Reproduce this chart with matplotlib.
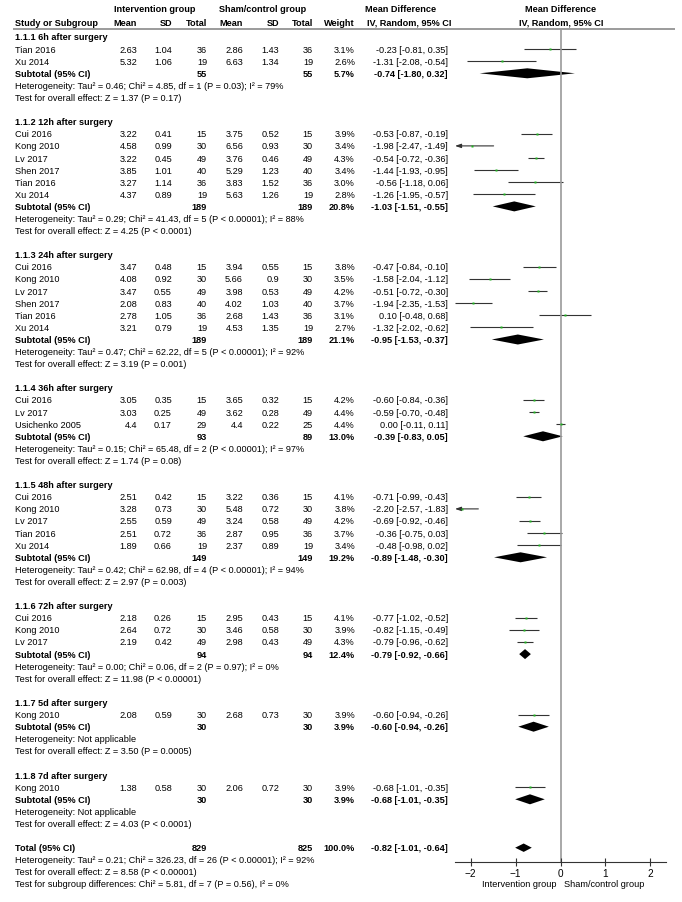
import numpy as np
import matplotlib.pyplot as plt
from matplotlib.patches import Polygon

plt.rcParams['font.family'] = ['Liberation Sans', 'DejaVu Sans']

# ---- data ----
group_labels = ['1.1.1 6h after surgery', '1.1.2 12h after surgery', '1.1.3 24h after surgery',
                '1.1.4 36h after surgery', '1.1.5 48h after surgery', '1.1.6 72h after surgery',
                '1.1.7 5d after surgery', '1.1.8 7d after surgery']

study_names = [['Tian 2016', 'Xu 2014'],
               ['Cui 2016', 'Kong 2010', 'Lv 2017', 'Shen 2017', 'Tian 2016', 'Xu 2014'],
               ['Cui 2016', 'Kong 2010', 'Lv 2017', 'Shen 2017', 'Tian 2016', 'Xu 2014'],
               ['Cui 2016', 'Lv 2017', 'Usichenko 2005'],
               ['Cui 2016', 'Kong 2010', 'Lv 2017', 'Tian 2016', 'Xu 2014'],
               ['Cui 2016', 'Kong 2010', 'Lv 2017'],
               ['Kong 2010'],
               ['Kong 2010']]

int_mean = [['2.63', '5.32'],
            ['3.22', '4.58', '3.22', '3.85', '3.27', '4.37'],
            ['3.47', '4.08', '3.47', '2.08', '2.78', '3.21'],
            ['3.05', '3.03', '4.4'],
            ['2.51', '3.28', '2.55', '2.51', '1.89'],
            ['2.18', '2.64', '2.19'],
            ['2.08'],
            ['1.38']]
int_sd = [['1.04', '1.06'],
          ['0.41', '0.99', '0.45', '1.01', '1.14', '0.89'],
          ['0.48', '0.92', '0.55', '0.83', '1.05', '0.79'],
          ['0.35', '0.25', '0.17'],
          ['0.42', '0.73', '0.59', '0.72', '0.66'],
          ['0.26', '0.72', '0.42'],
          ['0.59'],
          ['0.58']]
int_n = [[36, 19], [15, 30, 49, 40, 36, 19], [15, 30, 49, 40, 36, 19], [15, 49, 29],
         [15, 30, 49, 36, 19], [15, 30, 49], [30], [30]]

ctl_mean = [['2.86', '6.63'],
            ['3.75', '6.56', '3.76', '5.29', '3.83', '5.63'],
            ['3.94', '5.66', '3.98', '4.02', '2.68', '4.53'],
            ['3.65', '3.62', '4.4'],
            ['3.22', '5.48', '3.24', '2.87', '2.37'],
            ['2.95', '3.46', '2.98'],
            ['2.68'],
            ['2.06']]
ctl_sd = [['1.43', '1.34'],
          ['0.52', '0.93', '0.46', '1.23', '1.52', '1.26'],
          ['0.55', '0.9', '0.53', '1.03', '1.43', '1.35'],
          ['0.32', '0.28', '0.22'],
          ['0.36', '0.72', '0.58', '0.95', '0.89'],
          ['0.43', '0.58', '0.43'],
          ['0.73'],
          ['0.72']]
ctl_n = [[36, 19], [15, 30, 49, 40, 36, 19], [15, 30, 49, 40, 36, 19], [15, 49, 25],
         [15, 30, 49, 36, 19], [15, 30, 49], [30], [30]]

weights = [[3.1, 2.6], [3.9, 3.4, 4.3, 3.4, 3.0, 2.8], [3.8, 3.5, 4.2, 3.7, 3.1, 2.7],
           [4.2, 4.4, 4.4], [4.1, 3.8, 4.2, 3.7, 3.4], [4.1, 3.9, 4.3], [3.9], [3.9]]
md = [[-0.23, -1.31], [-0.53, -1.98, -0.54, -1.44, -0.56, -1.26],
      [-0.47, -1.58, -0.51, -1.94, 0.10, -1.32], [-0.60, -0.59, 0.00],
      [-0.71, -2.20, -0.69, -0.36, -0.48], [-0.77, -0.82, -0.79], [-0.60], [-0.68]]
ci_lo = [[-0.81, -2.08], [-0.87, -2.47, -0.72, -1.93, -1.18, -1.95],
         [-0.84, -2.04, -0.72, -2.35, -0.48, -2.02], [-0.84, -0.70, -0.11],
         [-0.99, -2.57, -0.92, -0.75, -0.98], [-1.02, -1.15, -0.96], [-0.94], [-1.01]]
ci_hi = [[0.35, -0.54], [-0.19, -1.49, -0.36, -0.95, 0.06, -0.57],
         [-0.10, -1.12, -0.30, -1.53, 0.68, -0.62], [-0.36, -0.48, 0.11],
         [-0.43, -1.83, -0.46, 0.03, 0.02], [-0.52, -0.49, -0.62], [-0.26], [-0.35]]

sub_int_n = [55, 189, 189, 93, 149, 94, 30, 30]
sub_ctl_n = [55, 189, 189, 89, 149, 94, 30, 30]
sub_weight = [5.7, 20.8, 21.1, 13.0, 19.2, 12.4, 3.9, 3.9]
sub_md = [-0.74, -1.03, -0.95, -0.39, -0.89, -0.79, -0.60, -0.68]
sub_lo = [-1.80, -1.51, -1.53, -0.83, -1.48, -0.92, -0.94, -1.01]
sub_hi = [0.32, -0.55, -0.37, 0.05, -0.30, -0.66, -0.26, -0.35]
het_text = ['Heterogeneity: Tau² = 0.46; Chi² = 4.85, df = 1 (P = 0.03); I² = 79%',
            'Heterogeneity: Tau² = 0.29; Chi² = 41.43, df = 5 (P < 0.00001); I² = 88%',
            'Heterogeneity: Tau² = 0.47; Chi² = 62.22, df = 5 (P < 0.00001); I² = 92%',
            'Heterogeneity: Tau² = 0.15; Chi² = 65.48, df = 2 (P < 0.00001); I² = 97%',
            'Heterogeneity: Tau² = 0.42; Chi² = 62.98, df = 4 (P < 0.00001); I² = 94%',
            'Heterogeneity: Tau² = 0.00; Chi² = 0.06, df = 2 (P = 0.97); I² = 0%',
            'Heterogeneity: Not applicable',
            'Heterogeneity: Not applicable']
test_text = ['Test for overall effect: Z = 1.37 (P = 0.17)',
             'Test for overall effect: Z = 4.25 (P < 0.0001)',
             'Test for overall effect: Z = 3.19 (P = 0.001)',
             'Test for overall effect: Z = 1.74 (P = 0.08)',
             'Test for overall effect: Z = 2.97 (P = 0.003)',
             'Test for overall effect: Z = 11.98 (P < 0.00001)',
             'Test for overall effect: Z = 3.50 (P = 0.0005)',
             'Test for overall effect: Z = 4.03 (P < 0.0001)']

total_int_n, total_ctl_n, total_weight = 829, 825, 100.0
total_md, total_lo, total_hi = -0.82, -1.01, -0.64
total_notes = ['Heterogeneity: Tau² = 0.21; Chi² = 326.23, df = 26 (P < 0.00001); I² = 92%',
               'Test for overall effect: Z = 8.58 (P < 0.00001)',
               'Test for subgroup differences: Chi² = 5.81, df = 7 (P = 0.56), I² = 0%']

x_ticks = [-2, -1, 0, 1, 2]
x_lim = (-2.35, 2.35)

# ---- layout (pixel coordinates) ----
W, H = 682, 903
FS = 6.6
ROW0, ROWH = 38, 12.1
col_name = 15
col_right = [137, 172, 207, 243, 279, 313, 355, 448]   # mean, sd, total, mean, sd, total, weight, md
plot_l, plot_r = 455, 666
axis_y = 863
line_col = '#333333'

fig = plt.figure(figsize=(W / 100, H / 100), dpi=100)
tab = fig.add_axes([0, 0, 1, 1])
tab.set_xlim(0, W)
tab.set_ylim(H, 0)
tab.axis('off')

forest = fig.add_axes([plot_l / W, 0, (plot_r - plot_l) / W, 1])
forest.set_xlim(*x_lim)
forest.set_ylim(H, 0)
forest.axis('off')


def txt(x, y, s, ha='left', bold=False):
    tab.text(x, y, s, ha=ha, va='center', fontsize=FS,
             fontweight='bold' if bold else 'normal', color='black')


def ci_line(y, m, lo, hi, w):
    lo_c, hi_c = max(lo, x_lim[0]), min(hi, x_lim[1])
    if lo < x_lim[0]:
        forest.annotate('', xy=(lo_c, y), xytext=(hi_c, y),
                        arrowprops=dict(arrowstyle='-|>,head_length=0.35,head_width=0.12',
                                        color=line_col, lw=0.8, shrinkA=0, shrinkB=0))
    else:
        forest.plot([lo_c, hi_c], [y, y], color=line_col, lw=0.8, solid_capstyle='butt')
    # marker size grows (slightly) with weight
    forest.plot(m, y, marker='s', ms=1.4 + 0.15 * w, color='#22b422', mec='none', zorder=3)


def diamond(y, m, lo, hi, h=5.0):
    forest.add_patch(Polygon([[lo, y], [m, y - h], [hi, y], [m, y + h]],
                             closed=True, color='black', lw=0))


# header
txt(155, 10, 'Intervention group', ha='center', bold=True)
txt(263, 10, 'Sham/control group', ha='center', bold=True)
txt(401, 10, 'Mean Difference', ha='center', bold=True)
txt(561, 10, 'Mean Difference', ha='center', bold=True)
txt(col_name, 23, 'Study or Subgroup', bold=True)
for x, s in zip(col_right[:7], ['Mean', 'SD', 'Total', 'Mean', 'SD', 'Total', 'Weight']):
    txt(x, 23, s, ha='right', bold=True)
txt(409, 23, 'IV, Random, 95% CI', ha='center', bold=True)
txt(561, 23, 'IV, Random, 95% CI', ha='center', bold=True)
tab.hlines(29.5, 13, 675, color='#8a8a8a', lw=1.2)

row = 0
for g in range(len(group_labels)):
    txt(col_name, ROW0 + ROWH * row, group_labels[g], bold=True)
    row += 1
    for k, name in enumerate(study_names[g]):
        y = ROW0 + ROWH * row
        txt(col_name, y, name)
        vals = [int_mean[g][k], int_sd[g][k], str(int_n[g][k]),
                ctl_mean[g][k], ctl_sd[g][k], str(ctl_n[g][k]), f'{weights[g][k]:.1f}%',
                f'{md[g][k]:.2f} [{ci_lo[g][k]:.2f}, {ci_hi[g][k]:.2f}]']
        for x, s in zip(col_right, vals):
            txt(x, y, s, ha='right')
        ci_line(y, md[g][k], ci_lo[g][k], ci_hi[g][k], weights[g][k])
        row += 1
    y = ROW0 + ROWH * row
    txt(col_name, y, 'Subtotal (95% CI)', bold=True)
    txt(col_right[2], y, str(sub_int_n[g]), ha='right', bold=True)
    txt(col_right[5], y, str(sub_ctl_n[g]), ha='right', bold=True)
    txt(col_right[6], y, f'{sub_weight[g]:.1f}%', ha='right', bold=True)
    txt(col_right[7], y, f'{sub_md[g]:.2f} [{sub_lo[g]:.2f}, {sub_hi[g]:.2f}]', ha='right', bold=True)
    diamond(y, sub_md[g], sub_lo[g], sub_hi[g])
    row += 1
    txt(col_name, ROW0 + ROWH * row, het_text[g])
    row += 1
    txt(col_name, ROW0 + ROWH * row, test_text[g])
    row += 2

y = ROW0 + ROWH * row
txt(col_name, y, 'Total (95% CI)', bold=True)
txt(col_right[2], y, str(total_int_n), ha='right', bold=True)
txt(col_right[5], y, str(total_ctl_n), ha='right', bold=True)
txt(col_right[6], y, f'{total_weight:.1f}%', ha='right', bold=True)
txt(col_right[7], y, f'{total_md:.2f} [{total_lo:.2f}, {total_hi:.2f}]', ha='right', bold=True)
diamond(y, total_md, total_lo, total_hi, h=4.2)
for note in total_notes:
    row += 1
    txt(col_name, ROW0 + ROWH * row, note)

# zero line
forest.vlines(0, 29.5, axis_y, color='#9a9a9a', lw=1.2)

# scale axis
scale = fig.add_axes([plot_l / W, 1 - axis_y / H, (plot_r - plot_l) / W, 1e-4])
scale.set_xlim(*x_lim)
scale.set_xticks(x_ticks)
scale.set_yticks([])
for s in ['top', 'left', 'right']:
    scale.spines[s].set_visible(False)
scale.spines['bottom'].set_color(line_col)
scale.spines['bottom'].set_linewidth(0.8)
scale.tick_params(axis='x', direction='inout', length=6, width=0.8, color=line_col,
                  labelsize=FS + 0.6, pad=1)
scale.patch.set_alpha(0)

txt(519, 885, 'Intervention group', ha='center')
txt(604, 885, 'Sham/control group', ha='center')

fig.savefig('out.png', dpi=100)
